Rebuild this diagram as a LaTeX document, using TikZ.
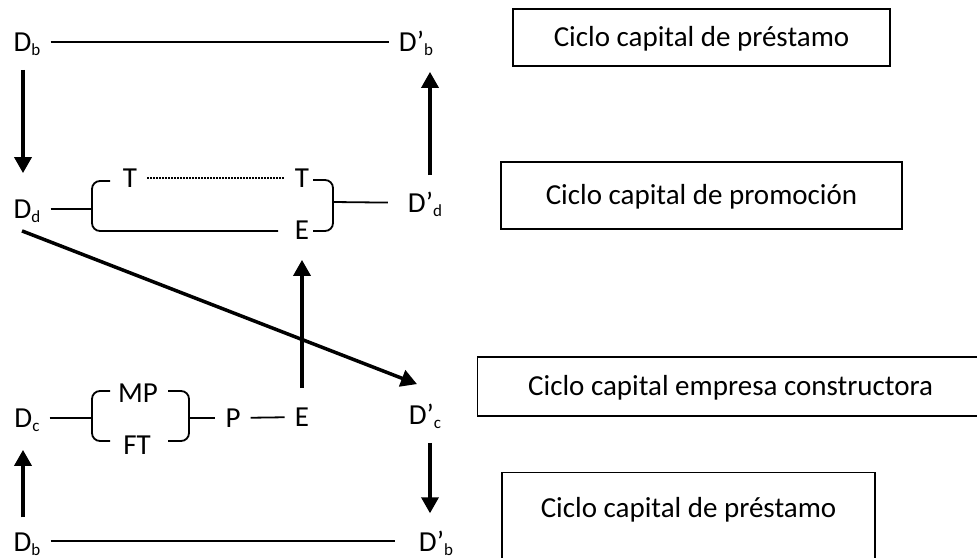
\documentclass[tikz,border=0pt]{standalone}
\usepackage{fontspec}
\setmainfont{Carlito}
\usetikzlibrary{arrows.meta}
\newcommand\sbs[1]{\raisebox{-4pt}{\fontsize{17}{20}\selectfont #1}}
\tikzset{
  lbl/.style={inner xsep=10pt,inner ysep=3pt,text height=22pt,text depth=3.4pt},
  cbox/.style={draw,line width=1.3pt,inner sep=0pt,text height=22pt,text depth=3.4pt},
  arr/.style={line width=3.5pt,-{Triangle[width=17pt,length=16pt]}},
  ln/.style={line width=1.8pt}
}
\begin{document}
\begin{tikzpicture}[x=1pt,y=-1pt,font=\fontsize{29}{34}\selectfont]
\useasboundingbox (0,0) rectangle (977,557);

\node[lbl] (dbt) at (27,42) {D\sbs{b}};
\node[lbl] (dbt2) at (416,42) {D’\sbs{b}};
\node[lbl] (ddl) at (27,209) {D\sbs{d}};
\node[lbl] (ddr) at (425,203) {D’\sbs{d}};
\node[lbl] (t1) at (130,178) {T};
\node[lbl] (t2) at (302,178) {T};
\node[lbl] (e1) at (302,230) {E};
\node[lbl] (dc) at (27,418) {D\sbs{c}};
\node[lbl] (mp) at (138,393) {MP};
\node[lbl] (ft) at (137,445) {FT};
\node[lbl] (p) at (233,418) {P};
\node[lbl] (e2) at (302,417) {E};
\node[lbl] (dcr) at (425,415) {D’\sbs{c}};
\node[lbl,text depth=1pt] (dbb) at (27,541) {D\sbs{b}};
\node[lbl,text depth=1pt] (dbb2) at (436,541) {D’\sbs{b}};

\node[cbox,minimum width=377pt,minimum height=57pt] (c1) at (701.5,37.5) {Ciclo capital de préstamo};
\node[cbox,minimum width=401pt,minimum height=67pt] (c2) at (701.5,195.5) {Ciclo capital de promoción};
\node[cbox,minimum width=506pt,minimum height=59pt,anchor=west] (c3) at (477,386.5) {Ciclo capital empresa constructora};
\node[draw,line width=1.3pt,inner sep=0pt,minimum width=373pt,text height=45pt,text depth=60pt,anchor=north] (c4) at (688.5,472) {Ciclo capital de préstamo};

\coordinate (bl) at (92,209);
\coordinate (br) at (333,202);
\coordinate (cl) at (92,418);
\coordinate (cr) at (189,418);

\draw[ln] (dbt) -- (dbt2);
\draw[ln] (ddl) -- (bl);
\draw[ln,shorten >=10pt] (br) -- (ddr);
\draw[ln,dash pattern=on 1.5pt off 1.5pt] (t1) -- (t2);
\draw[ln,rounded corners=8pt] (110,181) -- (92,181) -- (92,231) -- (278,231);
\draw[ln,rounded corners=8pt] (313,180) -- (333,180) -- (333,231) -- (313,231);
\draw[ln] (dc) -- (cl);
\draw[ln,rounded corners=8pt] (110,391) -- (92,391) -- (92,441) -- (110,441);
\draw[ln,rounded corners=8pt] (168,391) -- (189,391) -- (189,441) -- (168,441);
\draw[ln] (cr) -- (p);
\draw[ln] (p) -- (e2);
\draw[ln,shorten >=14pt] (dbb) -- (dbb2);

\draw[arr,shorten <=12pt,shorten >=20pt] ([xshift=-4pt]dbt.south) -- ([xshift=-4pt]dbt.south |- ddl.north);
\draw[arr,shorten <=12pt,shorten >=14pt] ([xshift=5pt]ddr.north) -- ([xshift=5pt]ddr.north |- dbt2.south);
\draw[arr,shorten <=13pt,shorten >=14pt] (e2.north) -- (e1.south);
\draw[arr,shorten <=9pt,shorten >=16pt] ([xshift=-4pt]dbb.north) -- ([xshift=-4pt]dbb.north |- dc.south);
\draw[arr,shorten <=12pt,shorten >=13pt] ([xshift=5pt]dcr.south) -- ([xshift=5pt]dcr.south |- dbb2.north);
\draw[arr] ([shift={(-5,6)}]ddl.south) -- ([shift={(-8,-15)}]dcr.north);
\end{tikzpicture}
\end{document}
